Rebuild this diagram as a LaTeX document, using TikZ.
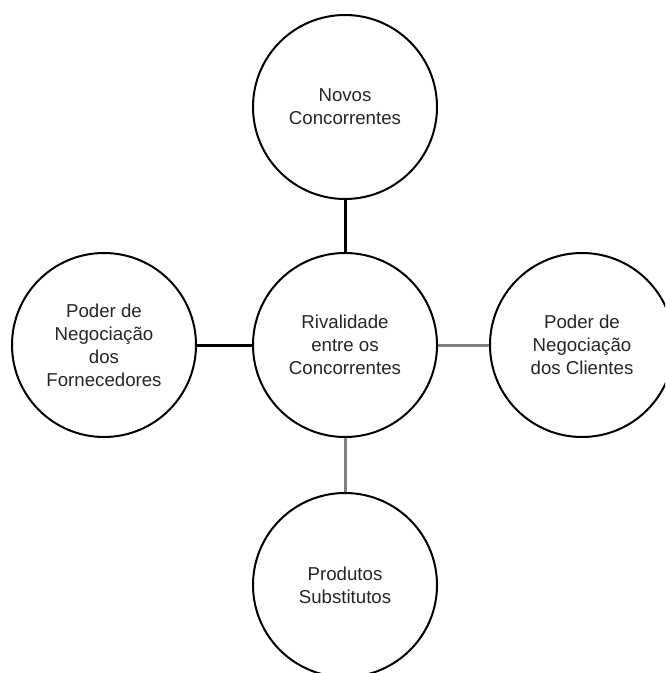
\documentclass[tikz,border=0pt]{standalone}
\usepackage{fontspec}
\setmainfont{Liberation Sans}
\begin{document}
\begin{tikzpicture}[x=0.75pt,y=-0.75pt,
  force/.style={circle,draw=black,line width=1.5pt,minimum size=184*0.75pt,inner sep=0pt,
    align=center,font=\fontsize{14pt}{17.25pt}\selectfont,text=black!85},
  link/.style={line width=2.25pt,draw=black},
  graylink/.style={line width=2.25pt,draw=black!50}]
\clip (0,0) rectangle (665,673);
\fill[white] (0,0) rectangle (665,673);
\node[force] (top) at (345,107) {Novos\\Concorrentes};
\node[force] (mid) at (345,345) {Rivalidade\\entre os\\Concorrentes};
\node[force] (left) at (104,345) {Poder de\\Negociação\\dos\\Fornecedores};
\node[force] (right) at (582,345) {Poder de\\Negociação\\dos Clientes};
\node[force] (bot) at (345,585) {Produtos\\Substitutos};
\draw[link] (top) -- (mid);
\draw[link] (left) -- (mid);
\draw[graylink] (mid) -- (right);
\draw[graylink] (mid) -- (bot);
\end{tikzpicture}
\end{document}
